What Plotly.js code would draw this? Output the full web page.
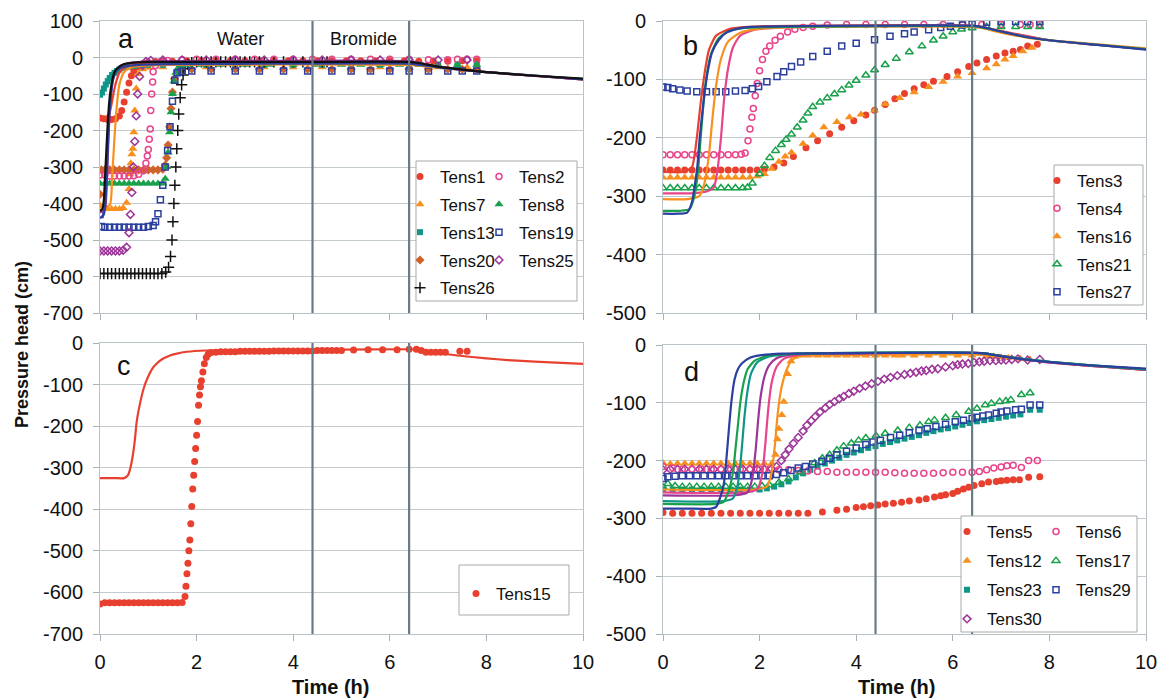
<!DOCTYPE html>
<html>
<head>
<meta charset="utf-8">
<script src="https://cdn.plot.ly/plotly-3.0.1.min.js"></script>
<style>
  html, body { margin: 0; padding: 0; background: #ffffff; }
  #chart { width: 1159px; height: 699px; }
</style>
</head>
<body>
<div id="chart"></div>
<script>
// ---------------- DATA (time h, pressure head cm) ----------------
// Panel a — observed
const tens1 = [[0,-166],[0.08,-168],[0.16,-170],[0.24,-170],[0.32,-168],[0.4,-160],[0.45,-145],[0.5,-122],[0.55,-95],[0.6,-70],[0.65,-50],[0.7,-36],[0.76,-26],[0.82,-20],[0.9,-16],[1.0,-13],[1.15,-11],[1.3,-10],[1.5,-10],[1.8,-9],[2.1,-9],[2.4,-9],[2.7,-9],[3.0,-9],[3.3,-9],[3.6,-9],[3.9,-9],[4.2,-9],[4.5,-9],[4.8,-9],[5.1,-9],[5.4,-9],[5.7,-9],[6.0,-9],[6.3,-9],[6.6,-10],[6.9,-10],[7.2,-10],[7.5,-9],[7.8,-9]];
const tens2 = [[0,-322],[0.1,-322],[0.2,-325],[0.3,-325],[0.4,-325],[0.5,-325],[0.6,-325],[0.7,-324],[0.8,-320],[0.9,-310],[0.95,-290],[0.98,-270],[1.0,-252],[1.02,-224],[1.04,-196],[1.05,-145],[1.07,-100],[1.09,-67],[1.1,-39],[1.15,-22],[1.25,-12],[1.4,-8],[1.7,-6],[2.0,-5],[2.4,-5],[2.8,-5],[3.2,-5],[3.6,-5],[4.0,-5],[4.4,-5],[4.8,-5],[5.2,-5],[5.6,-5],[6.0,-5],[6.4,-5],[6.8,-6],[7.2,-6],[7.4,-5],[7.6,-5],[7.8,-5]];
const tens7 = [[0,-405],[0.08,-412],[0.16,-415],[0.24,-415],[0.32,-415],[0.4,-415],[0.48,-412],[0.55,-398],[0.6,-360],[0.62,-320],[0.64,-290],[0.66,-265],[0.68,-250],[0.7,-205],[0.72,-145],[0.75,-85],[0.8,-45],[0.88,-32],[1.0,-28],[1.3,-27],[1.7,-27],[2.2,-27],[2.8,-27],[3.4,-27],[4.0,-27],[4.6,-27],[5.2,-27],[5.8,-27],[6.4,-27],[7.0,-27],[7.6,-27]];
const tens8 = [[0,-345],[0.1,-345],[0.2,-345],[0.3,-345],[0.4,-345],[0.5,-345],[0.6,-345],[0.7,-345],[0.8,-345],[0.9,-345],[1.0,-345],[1.1,-345],[1.2,-345],[1.3,-345],[1.35,-332],[1.38,-300],[1.41,-260],[1.44,-205],[1.47,-150],[1.5,-100],[1.53,-65],[1.57,-42],[1.62,-28],[1.7,-22],[1.85,-20],[2.1,-20],[2.5,-20],[3.0,-20],[3.5,-20],[4.0,-20],[4.5,-20],[5.0,-20],[5.4,-20],[5.8,-20],[6.2,-20],[6.6,-20],[7.0,-20],[7.4,-20],[7.8,-20]];
const tens13 = [[0,-102],[0.04,-96],[0.08,-85],[0.12,-74],[0.16,-65],[0.2,-56],[0.25,-48],[0.3,-42],[0.35,-37],[0.4,-33],[0.5,-28],[0.6,-25],[0.7,-23],[0.85,-21],[1.0,-20],[1.3,-20],[1.7,-20],[2.2,-20],[2.8,-20],[3.4,-20],[4.0,-20],[4.6,-20],[5.2,-20],[5.8,-20],[6.4,-20],[7.0,-21],[7.4,-21],[7.8,-21]];
const tens19 = [[0,-430],[0.03,-463],[0.1,-465],[0.2,-465],[0.3,-465],[0.4,-465],[0.5,-465],[0.6,-465],[0.7,-465],[0.8,-465],[0.9,-465],[1.0,-463],[1.1,-460],[1.15,-450],[1.2,-428],[1.25,-390],[1.3,-350],[1.35,-300],[1.4,-255],[1.45,-190],[1.5,-120],[1.55,-62],[1.6,-42],[1.7,-38],[1.9,-37],[2.3,-37],[2.8,-37],[3.3,-37],[3.8,-37],[4.3,-37],[4.8,-37],[5.2,-37],[5.6,-37],[6.0,-37],[6.4,-37],[6.8,-37],[7.2,-37],[7.5,-37],[7.8,-37]];
const tens20 = [[0,-375],[0.03,-308],[0.1,-308],[0.2,-308],[0.3,-308],[0.4,-308],[0.5,-308],[0.6,-308],[0.7,-308],[0.8,-308],[0.9,-308],[1.0,-308],[1.1,-308],[1.2,-308],[1.3,-306],[1.35,-295],[1.38,-275],[1.41,-240],[1.44,-190],[1.47,-140],[1.5,-95],[1.54,-58],[1.6,-38],[1.7,-33],[1.9,-32],[2.3,-32],[2.8,-32],[3.3,-32],[3.8,-32],[4.3,-32],[4.8,-32],[5.2,-32],[5.6,-32],[6.0,-32],[6.4,-32],[6.8,-32],[7.2,-32],[7.5,-32],[7.8,-33]];
const tens25 = [[0,-530],[0.08,-530],[0.16,-530],[0.24,-530],[0.32,-530],[0.4,-530],[0.48,-528],[0.55,-520],[0.6,-480],[0.63,-430],[0.66,-370],[0.69,-300],[0.72,-230],[0.75,-160],[0.78,-100],[0.82,-52],[0.88,-22],[0.95,-11],[1.05,-8],[1.3,-7],[1.7,-7],[2.2,-7],[2.8,-7],[3.4,-7],[4.0,-7],[4.6,-7],[5.2,-7],[5.8,-7],[6.4,-7],[7.0,-7],[7.6,-7]];
const tens26 = [[0,-592],[0.08,-592],[0.16,-592],[0.24,-592],[0.32,-592],[0.4,-592],[0.48,-592],[0.56,-592],[0.64,-592],[0.72,-592],[0.8,-592],[0.88,-592],[0.96,-592],[1.04,-592],[1.12,-592],[1.2,-592],[1.28,-592],[1.36,-588],[1.42,-575],[1.46,-545],[1.49,-500],[1.51,-450],[1.53,-400],[1.55,-350],[1.57,-300],[1.59,-250],[1.61,-200],[1.63,-155],[1.66,-110],[1.69,-75],[1.72,-48],[1.76,-30],[1.82,-19],[1.9,-14],[2.0,-12],[2.1,-12],[2.2,-12],[2.3,-12],[2.4,-12],[2.5,-12],[2.6,-12],[2.7,-12],[2.8,-12],[2.9,-12],[3.0,-12],[3.1,-12],[3.2,-12],[3.3,-12],[3.4,-12],[3.6,-12],[3.8,-12],[4.0,-12],[4.2,-12],[4.4,-12],[4.6,-12],[4.7,-12]];
// Panel a — simulated
const simA_black = [[0,-420],[0.05,-415],[0.08,-390],[0.1,-340],[0.13,-260],[0.16,-180],[0.2,-110],[0.25,-65],[0.3,-40],[0.4,-25],[0.5,-18],[0.7,-14],[1,-12],[2,-12],[4,-12],[6.4,-12],[6.6,-15],[7,-25],[7.5,-33],[8,-40],[9,-50],[10,-58]];
const simA_blue = [[0,-440],[0.08,-430],[0.12,-380],[0.15,-290],[0.18,-190],[0.22,-110],[0.27,-60],[0.35,-35],[0.5,-25],[0.8,-20],[1.5,-18],[4,-17],[6.4,-17],[6.6,-20],[7,-27],[8,-40],[9,-50],[10,-60]];
const simA_purple = [[0,-425],[0.1,-415],[0.14,-340],[0.17,-240],[0.2,-150],[0.24,-85],[0.3,-45],[0.4,-25],[0.6,-15],[1,-11],[2,-10],[6.4,-10],[6.6,-14],[7,-25],[8,-40],[10,-60]];
const simA_teal = [[0,-100],[0.05,-95],[0.1,-80],[0.2,-58],[0.3,-42],[0.45,-30],[0.6,-25],[0.9,-21],[1.5,-19],[6.4,-18],[6.6,-20],[7,-27],[8,-40],[10,-59]];
const simA_red = [[0,-170],[0.1,-168],[0.2,-150],[0.25,-120],[0.3,-85],[0.35,-60],[0.4,-42],[0.5,-28],[0.7,-18],[1,-14],[2,-12],[6.4,-12],[6.6,-15],[7,-25],[8,-40],[10,-60]];
const simA_orange = [[0,-410],[0.2,-405],[0.25,-330],[0.3,-220],[0.35,-130],[0.4,-75],[0.5,-40],[0.65,-27],[0.9,-22],[1.5,-20],[6.4,-20],[6.6,-22],[7,-28],[8,-40],[10,-60]];

// Panel b — observed
const tens3 = [[0,-255],[0.15,-255],[0.3,-255],[0.45,-255],[0.6,-255],[0.75,-255],[0.9,-255],[1.05,-255],[1.2,-255],[1.35,-255],[1.5,-255],[1.65,-255],[1.8,-255],[1.95,-255],[2.1,-254],[2.3,-250],[2.5,-243],[2.7,-232],[2.96,-217],[3.2,-205],[3.45,-193],[3.7,-182],[3.95,-171],[4.2,-161],[4.38,-153],[4.6,-143],[4.8,-133],[5.0,-124],[5.2,-116],[5.4,-109],[5.6,-103],[5.88,-95],[6.1,-87],[6.33,-78],[6.5,-72],[6.7,-66],[6.9,-60],[7.08,-55],[7.25,-52],[7.4,-49],[7.55,-43],[7.75,-40]];
const tens4 = [[0,-229],[0.15,-229],[0.3,-229],[0.45,-229],[0.6,-229],[0.75,-229],[0.9,-229],[1.05,-229],[1.2,-229],[1.35,-229],[1.5,-229],[1.62,-228],[1.7,-226],[1.76,-205],[1.8,-185],[1.84,-165],[1.87,-150],[1.91,-128],[1.95,-107],[2.0,-85],[2.06,-66],[2.13,-52],[2.21,-43],[2.32,-33],[2.43,-26],[2.58,-19],[2.73,-14],[2.9,-11],[3.1,-9],[3.4,-7],[3.8,-6],[4.2,-6],[4.6,-6],[5.0,-6],[5.4,-6],[5.8,-6],[6.2,-6],[6.6,-6],[7.0,-6],[7.4,-6],[7.6,-6],[7.8,-6]];
const tens16 = [[0,-268],[0.15,-268],[0.3,-268],[0.45,-268],[0.6,-268],[0.75,-268],[0.9,-268],[1.05,-268],[1.2,-268],[1.35,-268],[1.5,-268],[1.65,-268],[1.8,-268],[1.95,-266],[2.1,-262],[2.25,-253],[2.4,-241],[2.53,-232],[2.66,-225],[2.9,-210],[3.1,-196],[3.33,-182],[3.6,-173],[3.86,-165],[4.1,-160],[4.38,-153],[4.6,-142],[4.9,-132],[5.2,-122],[5.5,-113],[5.8,-104],[6.1,-95],[6.4,-89],[6.7,-81],[6.9,-74],[7.08,-66],[7.25,-60],[7.45,-52],[7.64,-46]];
const tens21 = [[0,-286],[0.15,-286],[0.3,-286],[0.45,-286],[0.6,-286],[0.75,-286],[0.9,-286],[1.05,-286],[1.2,-286],[1.35,-286],[1.5,-286],[1.65,-286],[1.75,-285],[1.85,-278],[2.0,-262],[2.1,-248],[2.21,-234],[2.33,-222],[2.45,-212],[2.55,-203],[2.66,-194],[2.78,-182],[2.9,-170],[3.0,-158],[3.1,-147],[3.25,-139],[3.4,-132],[3.55,-125],[3.7,-118],[3.85,-110],[4.0,-102],[4.2,-93],[4.38,-84],[4.6,-75],[4.83,-64],[5.1,-53],[5.36,-43],[5.6,-33],[5.8,-26],[6.0,-19],[6.18,-14],[6.4,-12],[6.7,-10],[7.0,-10],[7.3,-10],[7.55,-10],[7.8,-10]];
const tens27 = [[0,-113],[0.1,-114],[0.2,-116],[0.35,-118],[0.5,-120],[0.7,-121],[0.9,-121],[1.1,-121],[1.3,-121],[1.5,-120],[1.7,-119],[1.85,-116],[1.98,-112],[2.15,-104],[2.36,-95],[2.5,-87],[2.66,-78],[2.85,-70],[3.1,-61],[3.4,-52],[3.7,-43],[4.0,-38],[4.38,-32],[4.7,-26],[5.0,-22],[5.2,-19],[5.5,-15],[5.75,-11],[5.95,-9],[6.2,-7],[6.4,-5],[6.7,-2],[7.0,-1],[7.3,-1],[7.55,-1],[7.8,-1]];
// Panel b — simulated
const simB_blue = [[0,-330],[0.3,-330],[0.5,-328],[0.6,-310],[0.66,-280],[0.71,-250],[0.76,-200],[0.81,-160],[0.86,-124],[0.93,-85],[1.01,-55],[1.15,-33],[1.31,-20],[1.55,-13],[1.84,-10],[2.5,-9],[4,-8],[6.4,-8],[6.6,-10],[7,-18],[7.5,-27],[8,-33],[9,-41],[10,-49]];
const simB_green = [[0,-325],[0.35,-325],[0.55,-322],[0.65,-300],[0.72,-260],[0.78,-200],[0.84,-140],[0.9,-95],[1.0,-55],[1.15,-30],[1.35,-18],[1.7,-12],[2.5,-10],[6.4,-9],[6.6,-11],[7,-18],[7.5,-27],[8,-33],[9,-41],[10,-48]];
const simB_red = [[0,-258],[0.45,-258],[0.6,-250],[0.7,-200],[0.78,-140],[0.86,-90],[0.95,-50],[1.1,-25],[1.4,-13],[2,-9],[6.4,-8],[6.6,-10],[7,-17],[8,-33],[10,-48]];
const simB_orange = [[0,-305],[0.5,-305],[0.75,-300],[0.85,-280],[0.95,-230],[1.02,-170],[1.1,-110],[1.2,-65],[1.35,-35],[1.6,-20],[2,-13],[3,-10],[6.4,-10],[6.6,-12],[7,-20],[7.5,-28],[8,-33],[9,-40],[10,-47]];
const simB_pink = [[0,-295],[0.6,-295],[0.9,-292],[1.05,-285],[1.12,-260],[1.2,-200],[1.27,-130],[1.35,-80],[1.45,-45],[1.6,-25],[1.9,-15],[2.5,-11],[6.4,-9],[6.6,-11],[7,-18],[8,-33],[10,-48]];

// Panel c — observed and simulated
const tens15 = [[0,-628],[0.1,-625],[0.2,-625],[0.3,-625],[0.4,-625],[0.5,-625],[0.6,-625],[0.7,-625],[0.8,-625],[0.9,-625],[1.0,-625],[1.1,-625],[1.2,-625],[1.3,-625],[1.4,-625],[1.5,-625],[1.6,-625],[1.7,-624],[1.76,-610],[1.78,-585],[1.8,-555],[1.82,-530],[1.84,-500],[1.86,-474],[1.88,-435],[1.9,-393],[1.92,-351],[1.94,-318],[1.96,-285],[1.98,-254],[2.0,-222],[2.02,-189],[2.04,-150],[2.06,-125],[2.08,-105],[2.1,-91],[2.13,-70],[2.16,-50],[2.2,-35],[2.24,-27],[2.3,-23],[2.4,-22],[2.5,-21],[2.6,-21],[2.7,-21],[2.8,-21],[2.9,-20],[3.0,-20],[3.1,-20],[3.2,-20],[3.3,-20],[3.4,-20],[3.5,-20],[3.6,-19],[3.7,-19],[3.8,-19],[3.9,-19],[4.0,-19],[4.1,-19],[4.2,-19],[4.3,-19],[4.4,-19],[4.5,-18],[4.6,-18],[4.7,-18],[4.8,-18],[4.9,-18],[5.0,-18],[5.25,-17],[5.55,-16],[5.85,-16],[6.15,-16],[6.4,-15],[6.55,-15],[6.65,-18],[6.75,-22],[6.85,-22],[6.95,-22],[7.05,-22],[7.15,-22],[7.45,-20],[7.6,-20]];
const simC_red = [[0,-325],[0.3,-325],[0.5,-325],[0.58,-318],[0.63,-300],[0.68,-270],[0.72,-235],[0.76,-189],[0.82,-150],[0.91,-107],[1.0,-80],[1.08,-62],[1.17,-50],[1.3,-38],[1.45,-30],[1.57,-26],[1.8,-21],[2.2,-18],[3,-17],[4,-17],[5,-16],[6.4,-15],[6.6,-16],[7,-24],[7.4,-30],[8,-37],[8.44,-41],[9,-45],[10,-50]];

// Panel d — observed
const tens5 = [[0,-290],[0.2,-291],[0.4,-291],[0.6,-291],[0.8,-291],[1.0,-291],[1.2,-291],[1.4,-291],[1.6,-291],[1.8,-291],[2.0,-291],[2.2,-291],[2.4,-291],[2.6,-291],[2.8,-291],[3.0,-291],[3.3,-289],[3.6,-286],[3.8,-284],[4.0,-281],[4.15,-280],[4.3,-278],[4.45,-277],[4.6,-275],[4.77,-274],[4.94,-272],[5.1,-270],[5.3,-268],[5.45,-266],[5.62,-263],[5.75,-261],[5.85,-259],[6.0,-257],[6.1,-253],[6.22,-249],[6.33,-246],[6.44,-243],[6.6,-240],[6.74,-237],[6.9,-236],[7.0,-235],[7.12,-234],[7.25,-233],[7.38,-233],[7.57,-229],[7.8,-228]];
const tens6 = [[0,-210],[0.2,-213],[0.4,-215],[0.6,-215],[0.8,-215],[1.0,-215],[1.2,-215],[1.4,-215],[1.6,-215],[1.8,-215],[2.0,-215],[2.2,-215],[2.4,-216],[2.6,-216],[2.8,-217],[3.0,-218],[3.2,-219],[3.4,-219],[3.6,-220],[3.8,-220],[4.0,-220],[4.2,-220],[4.4,-220],[4.6,-220],[4.8,-221],[5.0,-222],[5.2,-222],[5.4,-222],[5.6,-222],[5.8,-221],[6.0,-220],[6.2,-220],[6.4,-220],[6.55,-219],[6.7,-216],[6.85,-213],[7.0,-211],[7.12,-209],[7.25,-208],[7.42,-212],[7.57,-200],[7.75,-200]];
const tens12 = [[0,-204],[0.15,-206],[0.3,-205],[0.45,-205],[0.6,-205],[0.75,-205],[0.9,-205],[1.05,-205],[1.2,-205],[1.35,-205],[1.5,-205],[1.65,-205],[1.8,-205],[1.95,-205],[2.1,-205],[2.25,-205],[2.33,-190],[2.37,-163],[2.4,-145],[2.46,-121],[2.5,-98],[2.58,-50],[2.65,-28],[2.72,-20],[2.8,-18],[3.0,-18],[3.2,-18],[3.4,-18],[3.6,-18],[3.8,-18],[4.0,-18],[4.2,-18],[4.4,-18],[4.6,-18],[4.8,-18],[4.95,-18],[5.2,-18],[5.5,-18],[5.8,-18],[6.1,-18],[6.4,-18],[6.7,-19],[6.85,-20],[7.0,-21],[7.15,-22],[7.4,-24],[7.6,-25]];
const tens17 = [[0,-246],[0.1,-240],[0.25,-244],[0.4,-245],[0.55,-245],[0.7,-245],[0.85,-245],[1.0,-245],[1.15,-245],[1.3,-245],[1.45,-245],[1.6,-245],[1.75,-245],[1.9,-245],[2.05,-244],[2.2,-242],[2.4,-238],[2.6,-232],[2.85,-220],[3.14,-204],[3.3,-196],[3.45,-190],[3.6,-182],[3.74,-175],[3.9,-170],[4.05,-165],[4.2,-161],[4.41,-157],[4.6,-153],[4.86,-148],[5.1,-143],[5.32,-139],[5.5,-133],[5.62,-130],[5.85,-126],[6.07,-121],[6.33,-115],[6.5,-110],[6.67,-104],[6.8,-101],[6.97,-98],[7.1,-97],[7.2,-95],[7.42,-86],[7.6,-83]];
const tens23 = [[0,-250],[0.2,-250],[0.4,-250],[0.6,-250],[0.8,-250],[1.0,-250],[1.2,-250],[1.4,-250],[1.6,-250],[1.8,-250],[2.0,-250],[2.15,-248],[2.3,-245],[2.45,-241],[2.6,-236],[2.75,-229],[2.9,-222],[3.05,-216],[3.2,-210],[3.35,-205],[3.5,-200],[3.65,-195],[3.8,-190],[3.95,-186],[4.1,-182],[4.25,-178],[4.4,-175],[4.55,-171],[4.7,-168],[4.85,-165],[5.0,-162],[5.15,-159],[5.3,-156],[5.45,-152],[5.6,-149],[5.75,-146],[5.9,-144],[6.05,-141],[6.2,-138],[6.35,-135],[6.5,-132],[6.65,-130],[6.8,-128],[6.95,-126],[7.1,-124],[7.25,-122],[7.4,-120],[7.6,-112],[7.8,-112]];
const tens29 = [[0,-231],[0.1,-228],[0.25,-227],[0.4,-226],[0.55,-226],[0.7,-226],[0.85,-226],[1.0,-226],[1.15,-226],[1.3,-226],[1.45,-226],[1.6,-226],[1.75,-226],[1.9,-226],[2.05,-226],[2.2,-226],[2.35,-224],[2.5,-221],[2.65,-217],[2.8,-213],[2.95,-210],[3.1,-206],[3.29,-201],[3.45,-196],[3.6,-190],[3.8,-184],[4.0,-178],[4.2,-172],[4.35,-168],[4.5,-165],[4.71,-160],[4.9,-156],[5.1,-152],[5.3,-148],[5.47,-145],[5.65,-141],[5.85,-137],[6.05,-133],[6.22,-130],[6.4,-127],[6.5,-125],[6.62,-123],[6.74,-121],[6.9,-118],[7.0,-116],[7.12,-114],[7.3,-112],[7.42,-111],[7.6,-104],[7.8,-104]];
const tens30 = [[0,-216],[0.15,-215],[0.3,-215],[0.45,-215],[0.6,-215],[0.75,-215],[0.9,-215],[1.05,-215],[1.2,-215],[1.35,-215],[1.5,-215],[1.65,-215],[1.8,-215],[1.95,-215],[2.1,-215],[2.25,-214],[2.35,-210],[2.45,-200],[2.53,-190],[2.61,-180],[2.7,-170],[2.8,-160],[2.9,-149],[2.98,-139],[3.07,-131],[3.15,-124],[3.25,-116],[3.36,-109],[3.45,-103],[3.55,-98],[3.65,-93],[3.74,-89],[3.85,-84],[3.95,-80],[4.07,-75],[4.19,-71],[4.32,-67],[4.45,-63],[4.58,-59],[4.71,-56],[4.85,-53],[5.0,-51],[5.12,-49],[5.24,-47],[5.35,-45],[5.45,-44],[5.57,-42],[5.69,-41],[5.85,-38],[6.0,-36],[6.1,-34],[6.2,-33],[6.32,-32],[6.44,-30],[6.55,-29],[6.65,-28],[6.77,-27],[6.89,-27],[7.0,-26],[7.1,-26],[7.22,-25],[7.35,-24],[7.55,-26],[7.8,-25]];
// Panel d — simulated
const simD_blue = [[0,-283],[0.5,-283],[1.0,-283],[1.1,-280],[1.18,-265],[1.26,-240],[1.32,-190],[1.37,-140],[1.42,-95],[1.48,-60],[1.55,-42],[1.63,-32],[1.8,-22],[2.0,-18],[2.46,-15],[4,-14],[6.6,-14],[6.9,-18],[7.3,-23],[7.8,-28],[8.5,-33],[9.2,-37],[10,-41]];
const simD_green = [[0,-275],[1.1,-275],[1.25,-272],[1.35,-255],[1.45,-220],[1.5,-180],[1.55,-140],[1.6,-100],[1.67,-65],[1.75,-42],[1.9,-27],[2.2,-18],[2.8,-15],[6.6,-14],[7,-19],[7.5,-25],[8,-29],[9,-36],[10,-42]];
const simD_teal = [[0,-270],[1.25,-270],[1.45,-265],[1.55,-240],[1.62,-190],[1.68,-130],[1.74,-85],[1.82,-50],[1.95,-30],[2.2,-20],[2.8,-15],[6.6,-14],[7,-19],[8,-29],[10,-42]];
const simD_purple = [[0,-260],[1.5,-260],[1.75,-255],[1.85,-230],[1.92,-180],[1.97,-130],[2.02,-90],[2.1,-55],[2.2,-35],[2.35,-23],[2.6,-17],[3.5,-15],[6.6,-14],[7,-19],[8,-30],[10,-43]];
const simD_pink = [[0,-255],[1.7,-255],[1.95,-250],[2.05,-225],[2.12,-170],[2.18,-110],[2.25,-65],[2.35,-38],[2.5,-24],[2.8,-17],[3.5,-15],[6.6,-14],[7,-19],[8,-30],[10,-43]];
const simD_orange = [[0,-250],[1.9,-250],[2.15,-245],[2.25,-220],[2.32,-170],[2.38,-115],[2.45,-75],[2.55,-45],[2.65,-28],[2.8,-20],[3.2,-18],[6.6,-17],[7,-20],[8,-30],[10,-43]];

// Axis ticks and annotations
const xTickVals = [0, 2, 4, 6, 8, 10];
const xTickText = ['0', '2', '4', '6', '8', '10'];
const yTickValsA = [100, 0, -100, -200, -300, -400, -500, -600, -700];
const yTickTextA = ['100', '0', '-100', '-200', '-300', '-400', '-500', '-600', '-700'];
const yTickValsC = [0, -100, -200, -300, -400, -500, -600, -700];
const yTickTextC = ['0', '-100', '-200', '-300', '-400', '-500', '-600', '-700'];
const yTickValsB = [0, -100, -200, -300, -400, -500];
const yTickTextB = ['0', '-100', '-200', '-300', '-400', '-500'];
const phaseBoundaries = [4.4, 6.4];   // start and end of the bromide pulse
const phaseLabels = ['Water', 'Bromide'];

// ---------------- STYLE ----------------
const C = {
  red: '#e8402f', pink: '#e8448c', orange: '#f7901e', green: '#19a04a',
  teal: '#0f9688', blue: '#2b3f9e', brown: '#d0622b', purple: '#9d3599', black: '#111111'
};
const FONT = 'Liberation Sans, Arial, Helvetica, sans-serif';

function obs(data, name, ax, legend, color, symbol, size) {
  const open = symbol.indexOf('open') >= 0 || symbol === 'cross-thin';
  return {
    type: 'scatter', mode: 'markers', name: name, legendgroup: name,
    x: data.map(p => p[0]), y: data.map(p => p[1]),
    xaxis: 'x' + ax, yaxis: 'y' + ax, legend: legend,
    marker: { symbol: symbol, size: size, color: color,
              line: { width: open ? 1.5 : 0, color: color } },
    hoverinfo: 'x+y+name'
  };
}
function sim(data, ax, color) {
  return {
    type: 'scatter', mode: 'lines', showlegend: false,
    x: data.map(p => p[0]), y: data.map(p => p[1]),
    xaxis: 'x' + ax, yaxis: 'y' + ax,
    line: { color: color, width: 2.2, shape: 'spline', smoothing: 0.6 },
    hoverinfo: 'skip'
  };
}

const traces = [
  // panel a
  obs(tens1, 'Tens1', '', 'legend', C.red, 'circle', 7),
  obs(tens7, 'Tens7', '', 'legend', C.orange, 'triangle-up', 8),
  obs(tens13, 'Tens13', '', 'legend', C.teal, 'square', 6),
  obs(tens20, 'Tens20', '', 'legend', C.brown, 'diamond', 7),
  obs(tens26, 'Tens26', '', 'legend', C.black, 'cross-thin', 8),
  obs(tens2, 'Tens2', '', 'legend2', C.pink, 'circle-open', 6),
  obs(tens8, 'Tens8', '', 'legend2', C.green, 'triangle-up', 8),
  obs(tens19, 'Tens19', '', 'legend2', C.blue, 'square-open', 6),
  obs(tens25, 'Tens25', '', 'legend2', C.purple, 'diamond-open', 6),
  sim(simA_teal, '', C.teal), sim(simA_red, '', C.red), sim(simA_orange, '', C.orange),
  sim(simA_purple, '', C.purple), sim(simA_blue, '', C.blue), sim(simA_black, '', C.black),
  // panel b
  obs(tens3, 'Tens3', '2', 'legend3', C.red, 'circle', 7),
  obs(tens4, 'Tens4', '2', 'legend3', C.pink, 'circle-open', 6),
  obs(tens16, 'Tens16', '2', 'legend3', C.orange, 'triangle-up', 8),
  obs(tens21, 'Tens21', '2', 'legend3', C.green, 'triangle-up-open', 7),
  obs(tens27, 'Tens27', '2', 'legend3', C.blue, 'square-open', 6),
  sim(simB_red, '2', C.red), sim(simB_pink, '2', C.pink), sim(simB_orange, '2', C.orange),
  sim(simB_green, '2', C.green), sim(simB_blue, '2', C.blue),
  // panel c
  obs(tens15, 'Tens15', '3', 'legend4', C.red, 'circle', 7),
  sim(simC_red, '3', C.red),
  // panel d
  obs(tens5, 'Tens5', '4', 'legend5', C.red, 'circle', 7),
  obs(tens12, 'Tens12', '4', 'legend5', C.orange, 'triangle-up', 8),
  obs(tens23, 'Tens23', '4', 'legend5', C.teal, 'square', 6),
  obs(tens30, 'Tens30', '4', 'legend5', C.purple, 'diamond-open', 6),
  obs(tens6, 'Tens6', '4', 'legend6', C.pink, 'circle-open', 6),
  obs(tens17, 'Tens17', '4', 'legend6', C.green, 'triangle-up-open', 7),
  obs(tens29, 'Tens29', '4', 'legend6', C.blue, 'square-open', 6),
  sim(simD_orange, '4', C.orange), sim(simD_pink, '4', C.pink), sim(simD_purple, '4', C.purple),
  sim(simD_teal, '4', C.teal), sim(simD_green, '4', C.green), sim(simD_blue, '4', C.blue)
];

// ---------------- LAYOUT ----------------
const W = 1159, H = 699;
const px = v => v / W, py = v => 1 - v / H;
const LINE = '#b9c3c7', GRID = '#c3cbcf', TICK = '#a9b3b7';

function xAx(domain, anchor, labels) {
  return {
    domain: domain, anchor: anchor, range: [0, 10], tickmode: 'array', tickvals: xTickVals, ticktext: xTickText,
    showticklabels: labels, ticks: 'outside', ticklen: 6, tickcolor: TICK, tickwidth: 1,
    showgrid: false, zeroline: false, showline: true, linecolor: LINE, linewidth: 1, mirror: true,
    tickfont: { size: 20, color: '#111', family: FONT }, ticklabelstandoff: 4, fixedrange: true
  };
}
function yAx(domain, anchor, range, vals, text) {
  return {
    domain: domain, anchor: anchor, range: range, tickmode: 'array', tickvals: vals, ticktext: text,
    ticks: 'outside', ticklen: 6, tickcolor: TICK, tickwidth: 1,
    showgrid: true, gridcolor: GRID, gridwidth: 1.2, zeroline: false,
    showline: true, linecolor: LINE, linewidth: 1, mirror: true,
    tickfont: { size: 20, color: '#111', family: FONT }, ticklabelstandoff: 6, fixedrange: true
  };
}
const xL = [px(100), px(583)], xR = [px(663), px(1146)];

const shapes = [];
['', '2', '3', '4'].forEach(ax => {
  phaseBoundaries.forEach(b => shapes.push({
    type: 'line', xref: 'x' + ax, yref: 'y' + ax + ' domain', x0: b, x1: b, y0: 0, y1: 1,
    line: { color: '#687c86', width: 2.2 }, layer: 'above'
  }));
});
// legend frames
[[416, 161, 577, 301], [1054, 165, 1143, 305], [459, 565, 569, 615], [961, 516, 1137, 632]].forEach(b => {
  shapes.push({ type: 'rect', xref: 'paper', yref: 'paper', x0: px(b[0]), x1: px(b[2]),
    y0: py(b[3]), y1: py(b[1]), line: { color: '#a9a9a9', width: 1 }, fillcolor: '#ffffff', layer: 'above' });
});

const legBase = { xanchor: 'left', yanchor: 'top', bgcolor: 'rgba(0,0,0,0)', borderwidth: 0,
  font: { size: 17, color: '#111', family: FONT }, traceorder: 'grouped', tracegroupgap: 2.7,
  itemclick: false, itemdoubleclick: false };

const ann = (text, xref, yref, x, y, size, extra) => Object.assign({
  text: text, xref: xref, yref: yref, x: x, y: y, showarrow: false,
  xanchor: 'center', yanchor: 'middle', font: { size: size, color: '#111', family: FONT }
}, extra || {});

const layout = {
  width: W, height: H, margin: { l: 0, r: 0, t: 0, b: 0, pad: 0 },
  paper_bgcolor: '#ffffff', plot_bgcolor: '#ffffff',
  font: { family: FONT, color: '#111' },
  xaxis: xAx(xL, 'y', false), yaxis: yAx([py(313), py(21)], 'x', [-700, 100], yTickValsA, yTickTextA),
  xaxis2: xAx(xR, 'y2', false), yaxis2: yAx([py(313), py(21)], 'x2', [-500, 0], yTickValsB, yTickTextB),
  xaxis3: xAx(xL, 'y3', true), yaxis3: yAx([py(634), py(343)], 'x3', [-700, 0], yTickValsC, yTickTextC),
  xaxis4: xAx(xR, 'y4', true), yaxis4: yAx([py(634), py(345)], 'x4', [-500, 0], yTickValsB, yTickTextB),
  legend: Object.assign({}, legBase, { x: px(400), y: py(159) }),
  legend2: Object.assign({}, legBase, { x: px(479), y: py(159) }),
  legend3: Object.assign({}, legBase, { x: px(1037), y: py(163) }),
  legend4: Object.assign({}, legBase, { x: px(456), y: py(576) }),
  legend5: Object.assign({}, legBase, { x: px(947), y: py(514), tracegroupgap: 4 }),
  legend6: Object.assign({}, legBase, { x: px(1036), y: py(514), tracegroupgap: 4 }),
  shapes: shapes,
  annotations: [
    ann('a', 'x', 'y', 0.54, 51, 27),
    ann(phaseLabels[0], 'x', 'y', 2.9, 51, 18),
    ann(phaseLabels[1], 'x', 'y', 5.45, 51, 18),
    ann('b', 'x2', 'y2', 0.56, -43, 27),
    ann('c', 'x3', 'y3', 0.5, -55, 27),
    ann('d', 'x4', 'y4', 0.6, -47, 27),
    ann('<b>Time (h)</b>', 'paper', 'paper', px(331), py(687), 20),
    ann('<b>Time (h)</b>', 'paper', 'paper', px(896), py(687), 20),
    ann('<b>Pressure head (cm)</b>', 'paper', 'paper', px(22), py(345), 18, { textangle: -90 })
  ],
  showlegend: true
};

Plotly.newPlot('chart', traces, layout, { displayModeBar: false, responsive: false });
</script>
</body>
</html>
